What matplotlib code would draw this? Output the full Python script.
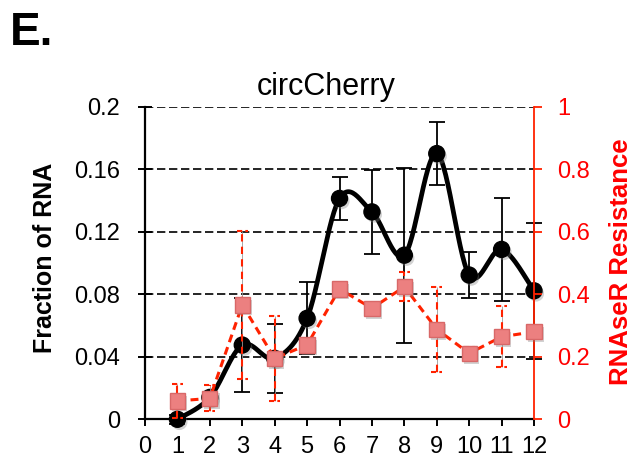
import numpy as np
import matplotlib.pyplot as plt
import matplotlib.patheffects as pe

plt.rcParams['font.family'] = ['Liberation Sans', 'DejaVu Sans']

# fraction of RNA (left axis)
fractions = np.arange(1, 13)
frac_rna = [0.000, 0.014, 0.0475, 0.039, 0.0646, 0.1413, 0.1327, 0.105, 0.170, 0.0923, 0.1087, 0.0822]
frac_err = [0.003, 0.003, 0.030, 0.022, 0.023, 0.0135, 0.027, 0.056, 0.020, 0.0145, 0.033, 0.0435]

# RNAseR resistance (right axis)
resist = [0.0585, 0.067, 0.366, 0.195, 0.238, 0.417, 0.355, 0.424, 0.288, 0.211, 0.264, 0.280]
resist_err = [0.055, 0.042, 0.237, 0.136, 0.012, 0.010, 0.015, 0.047, 0.136, 0.020, 0.098, 0.010]

left_ticks = [0, 0.04, 0.08, 0.12, 0.16, 0.2]
left_labels = ['0', '0.04', '0.08', '0.12', '0.16', '0.2']
right_ticks = [0, 0.2, 0.4, 0.6, 0.8, 1]
right_labels = ['0', '0.2', '0.4', '0.6', '0.8', '1']

RED = '#ff2200'
TXT_RED = '#ff0000'


def smooth(x, y, n=30):
    # cardinal spline through the points, like a spreadsheet "smoothed line"
    x = np.asarray(x, float)
    y = np.asarray(y, float)
    px = np.r_[x[0], x, x[-1]]
    py = np.r_[y[0], y, y[-1]]
    t = np.linspace(0, 1, n)[:, None]
    xs, ys = [], []
    for i in range(1, len(px) - 2):
        p0 = np.array([px[i], py[i]])
        p3 = np.array([px[i + 1], py[i + 1]])
        p1 = p0 + (p3 - np.array([px[i - 1], py[i - 1]])) / 6
        p2 = p3 - (np.array([px[i + 2], py[i + 2]]) - p0) / 6
        b = ((1 - t) ** 3) * p0 + 3 * ((1 - t) ** 2) * t * p1 + 3 * (1 - t) * t ** 2 * p2 + t ** 3 * p3
        xs.append(b[:, 0])
        ys.append(b[:, 1])
    return np.concatenate(xs), np.concatenate(ys)


fig = plt.figure(figsize=(6.33, 4.69), dpi=100)
ax = fig.add_axes([0.2291, 0.1060, 0.6145, 0.6665])
ax2 = ax.twinx()

shadow = [pe.SimplePatchShadow(offset=(1.5, -2), alpha=0.35, shadow_rgbFace='gray'), pe.Normal()]

# left series
ax.set_xlim(0, 12)
ax.set_ylim(0, 0.2)
for yv in left_ticks[1:]:
    ax.axhline(yv, color='black', lw=1.2, ls=(0, (5, 2.2)), zorder=0)
eb = ax.errorbar(fractions, frac_rna, yerr=frac_err, fmt='none', ecolor='black',
                 elinewidth=1.3, capsize=6, capthick=1.3, zorder=2)
for part in eb.get_children():
    part.set_clip_on(False)
sx, sy = smooth(fractions, frac_rna)
ax.plot(sx, sy, color='black', lw=3.4, solid_capstyle='round', zorder=3, clip_on=False)
ax.plot(fractions, frac_rna, ls='none', marker='o', ms=11.5, color='black',
        zorder=4, path_effects=shadow, clip_on=False)

# right series
ax2.set_ylim(0, 1)
lo = np.array(resist) - np.array(resist_err)
hi = np.array(resist) + np.array(resist_err)
ax2.vlines(fractions, lo, hi, color='#999999', lw=0.6, zorder=1, clip_on=False)
ax2.vlines(fractions, lo, hi, color=RED, lw=1.5, linestyles=(0, (3.5, 2.5)), zorder=2, clip_on=False)
for ends in (lo, hi):
    ax2.hlines(ends, fractions - 0.17, fractions + 0.17, color=RED, lw=1.5,
               linestyles=(0, (2.5, 1.5)), zorder=2, clip_on=False)
ax2.plot(fractions, resist, color=RED, lw=2.2, ls=(0, (2.6, 1.7)), zorder=3, clip_on=False)
ax2.plot(fractions, resist, ls='none', marker='s', ms=11, markerfacecolor='#ec8080',
         markeredgecolor='#d86868', markeredgewidth=1.0, zorder=4, path_effects=shadow,
         clip_on=False)

# spines and ticks
for a in (ax, ax2):
    a.spines['top'].set_visible(False)
ax.spines['right'].set_visible(False)
ax.spines['left'].set_linewidth(1.6)
ax.spines['bottom'].set_linewidth(1.6)
ax2.spines['left'].set_visible(False)
ax2.spines['bottom'].set_visible(False)
ax2.spines['right'].set_color(RED)
ax2.spines['right'].set_linewidth(1.3)

ax.set_xticks(range(0, 13))
ax.set_xticklabels([str(i) for i in range(0, 13)])
ax.set_yticks(left_ticks)
ax.set_yticklabels(left_labels)
ax.tick_params(axis='x', direction='out', length=5, width=1.4, labelsize=17, pad=7)
ax.tick_params(axis='y', direction='inout', length=10, width=1.4, labelsize=17, pad=13)

ax2.set_yticks(right_ticks)
ax2.set_yticklabels(right_labels)
ax2.tick_params(axis='y', direction='out', length=6, width=1.3, colors=RED,
                labelcolor=TXT_RED, labelsize=17, pad=11)

fig.text(10 / 633, 1 - 45 / 469, 'E.', fontsize=33, fontweight='bold', va='baseline', ha='left')
fig.text(326 / 633, 1 - 95 / 469, 'circCherry', fontsize=22, va='baseline', ha='center')
fig.text(45 / 633, 1 - 257.5 / 469, 'Fraction of RNA', fontsize=18, fontweight='bold',
         rotation=90, va='center', ha='center')
fig.text(621 / 633, 1 - 262 / 469, 'RNAseR Resistance', fontsize=18.5, fontweight='bold',
         color=TXT_RED, rotation=90, va='center', ha='center')

fig.savefig('out.png', dpi=100)
